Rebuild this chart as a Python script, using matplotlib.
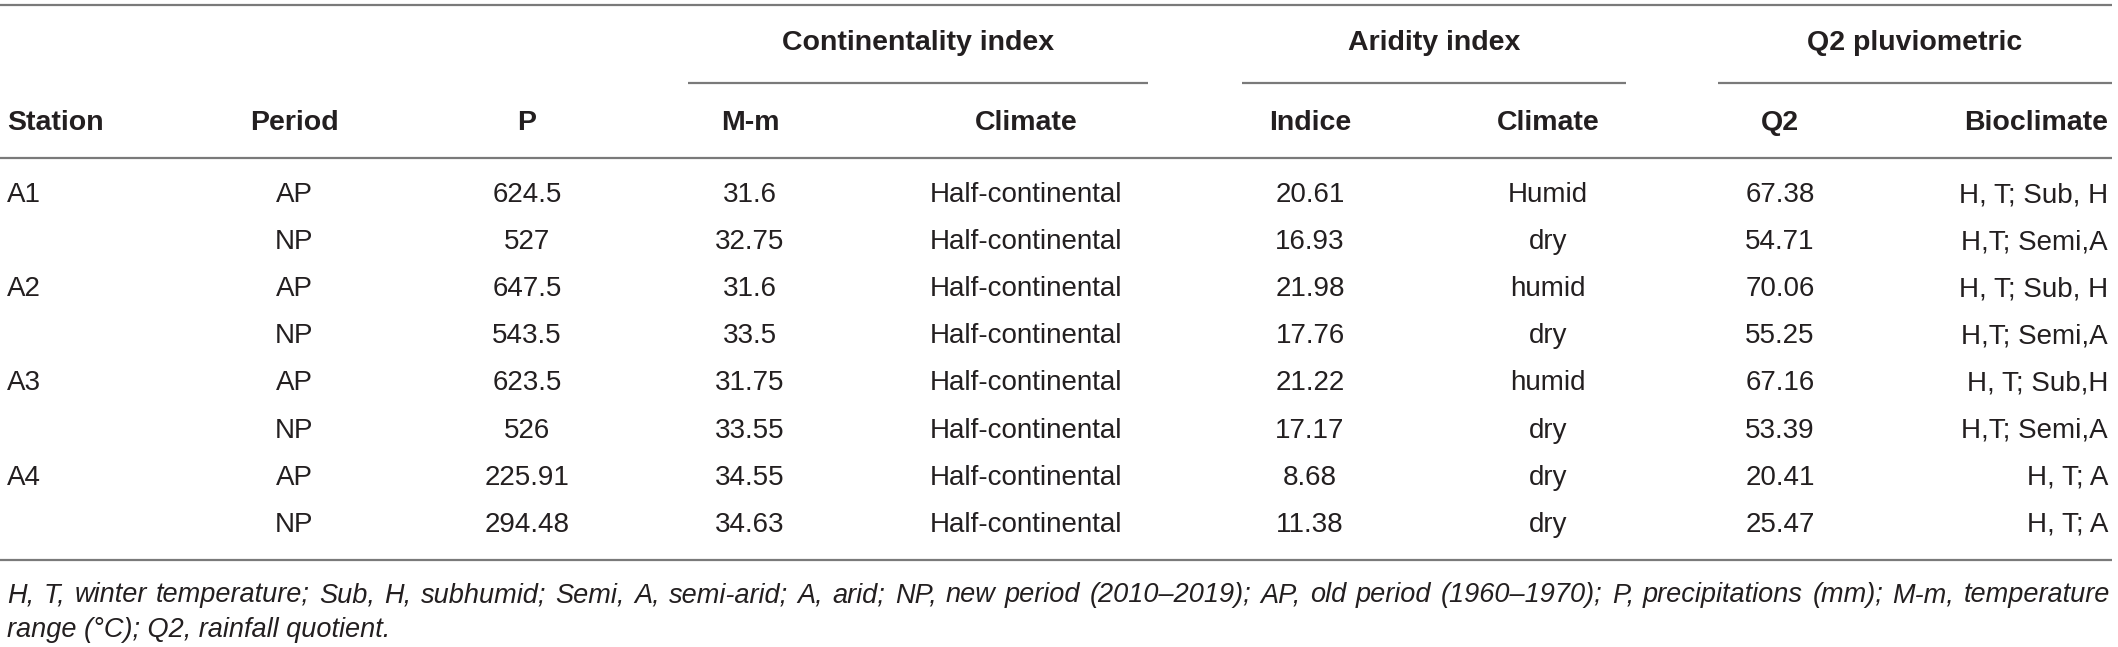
import matplotlib
matplotlib.use("Agg")
import matplotlib.pyplot as plt

# ---- table data ----
stations = ["A1", "", "A2", "", "A3", "", "A4", ""]
periods = ["AP", "NP", "AP", "NP", "AP", "NP", "AP", "NP"]
precip = [624.5, 527, 647.5, 543.5, 623.5, 526, 225.91, 294.48]
m_minus_m = [31.6, 32.75, 31.6, 33.5, 31.75, 33.55, 34.55, 34.63]
cont_climate = ["Half-continental"] * 8
aridity = [20.61, 16.93, 21.98, 17.76, 21.22, 17.17, 8.68, 11.38]
arid_climate = ["Humid", "dry", "humid", "dry", "humid", "dry", "dry", "dry"]
q2 = [67.38, 54.71, 70.06, 55.25, 67.16, 53.39, 20.41, 25.47]
bioclimate = ["H, T; Sub, H", "H,T; Semi,A", "H, T; Sub, H", "H,T; Semi,A",
              "H, T; Sub,H", "H,T; Semi,A", "H, T; A", "H, T; A"]

col_headers = ["Station", "Period", "P", "M-m", "Climate", "Indice",
               "Climate", "Q2", "Bioclimate"]
group_headers = ["Continentality index", "Aridity index", "Q2 pluviometric"]

footnote = ("H, T, winter temperature; Sub, H, subhumid; Semi, A, semi-arid; "
            "A, arid; NP, new period (2010\u20132019); AP, old period (1960\u20131970); "
            "P, precipitations (mm); M-m, temperature range (\u00b0C); Q2, rainfall quotient.")

# ---- layout (pixels) ----
W, H = 2118, 647
col_x = [7, 294, 527, 750, 1026, 1310, 1548, 1780, 2108]
col_ha = ["left"] + ["center"] * 7 + ["right"]
group_span = [(688, 1148), (1242, 1626), (1718, 2112)]
row_y0, row_dy = 195, 47.1
TXT = "#231f20"
RULE = "#7a7a7a"
FONT = ["Liberation Sans", "DejaVu Sans"]

plt.rcParams["font.family"] = FONT

fig = plt.figure(figsize=(W / 100, H / 100), dpi=100)
ax = fig.add_axes([0, 0, 1, 1])
ax.set_xlim(0, W)
ax.set_ylim(H, 0)
ax.axis("off")

# rules
for y in (5, 158, 560):
    ax.plot([0, 2112], [y, y], color=RULE, lw=1.6, solid_capstyle="butt")
for x0, x1 in group_span:
    ax.plot([x0, x1], [83, 83], color=RULE, lw=1.6, solid_capstyle="butt")

# group headers
for (x0, x1), label in zip(group_span, group_headers):
    ax.text((x0 + x1) / 2, 43, label, ha="center", va="center",
            fontsize=20.5, fontweight="bold", color=TXT)

# column headers
for x, ha, label in zip(col_x, col_ha, col_headers):
    ax.text(x, 123, label, ha=ha, va="center", fontsize=20.5,
            fontweight="bold", color=TXT)

# body
columns = [
    stations,
    periods,
    [f"{v:g}" for v in precip],
    [f"{v:g}" for v in m_minus_m],
    cont_climate,
    [f"{v:g}" for v in aridity],
    arid_climate,
    [f"{v:g}" for v in q2],
    bioclimate,
]
for x, ha, values in zip(col_x, col_ha, columns):
    for i, val in enumerate(values):
        ax.text(x, row_y0 + i * row_dy, val, ha=ha, va="center",
                fontsize=20, color=TXT)

# footnote, first line justified to the table width
words = footnote.split(" ")
split_at = words.index("temperature", words.index("M-m,")) + 1
line1, line2 = words[:split_at], words[split_at:]

fig.canvas.draw()
renderer = fig.canvas.get_renderer()
inv = ax.transData.inverted()
fn_kw = dict(fontsize=19.5, style="italic", color=TXT, va="center")

artists = [ax.text(0, 595, w, ha="left", **fn_kw) for w in line1]
widths = []
for a in artists:
    bb = a.get_window_extent(renderer)
    (xa, _), (xb, _) = inv.transform([[bb.x0, bb.y0], [bb.x1, bb.y1]])
    widths.append(xb - xa)
left, right = 7, 2110
gap = (right - left - sum(widths)) / (len(artists) - 1)
x = left
for a, w in zip(artists, widths):
    a.set_x(x)
    x += w + gap

ax.text(left, 630, " ".join(line2), ha="left", **fn_kw)

fig.savefig("out.png", dpi=100)
